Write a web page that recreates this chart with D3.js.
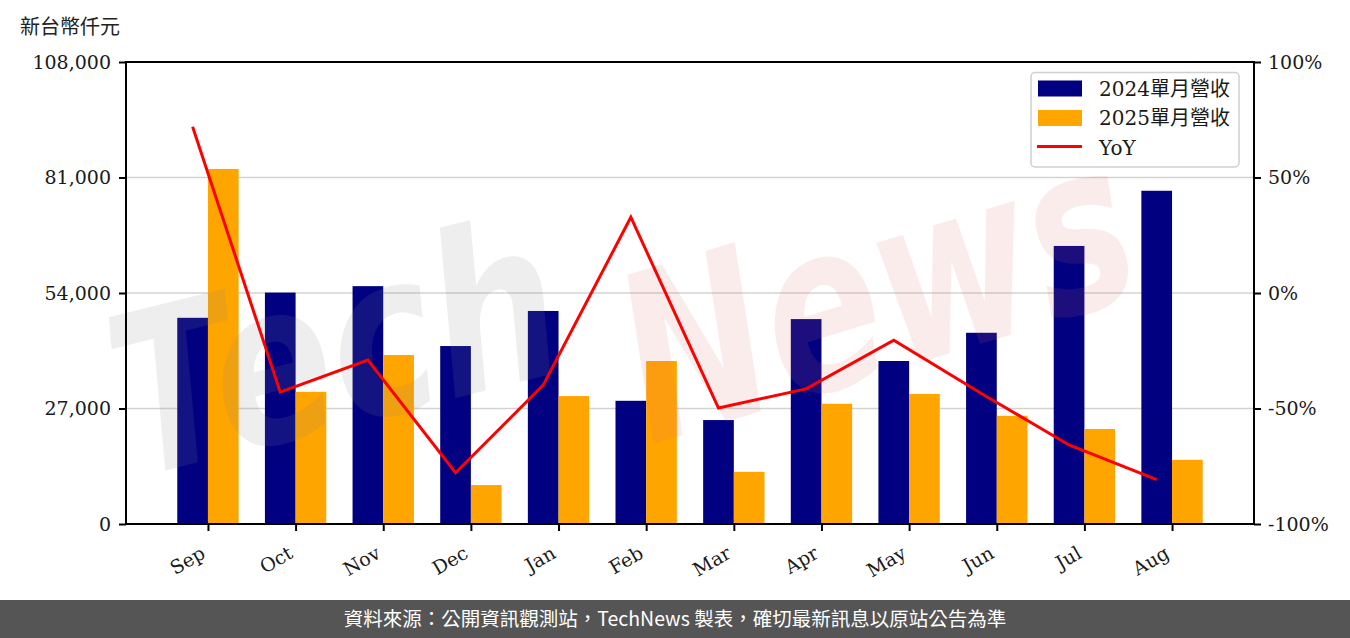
<!DOCTYPE html>
<html>
<head>
<meta charset="utf-8">
<script src="https://cdn.jsdelivr.net/npm/d3@7"></script>
<style>
html,body{margin:0;padding:0;background:#fff;}
svg{display:block;}
</style>
</head>
<body>
<svg id="chart" width="1350" height="638"></svg>
<script>
const months = ["Sep","Oct","Nov","Dec","Jan","Feb","Mar","Apr","May","Jun","Jul","Aug"];
const rev2024 = [48200, 54100, 55600, 41600, 49800, 28800, 24300, 47900, 38100, 44700, 65000, 77900];
const rev2025 = [83000, 30900, 39500, 9100, 29900, 38100, 12200, 28100, 30400, 25300, 22200, 15000];
const yoy = [72.0, -42.9, -29.0, -77.8, -39.9, 32.8, -49.8, -41.5, -20.4, -43.5, -65.8, -80.8];
const leftTicks = [0, 27000, 54000, 81000, 108000];
const rightTicks = [-100, -50, 0, 50, 100];
const seriesNames = ["2024單月營收", "2025單月營收", "YoY"];
const unitLabel = "新台幣仟元";
const footerText = "資料來源：公開資訊觀測站，TechNews 製表，確切最新訊息以原站公告為準";

const svg = d3.select("#chart");
const L = 126, R = 1254, T = 62, B = 524;
const bw = 0.35;
const x = d3.scaleLinear().domain([-0.35 - 0.585, 11.35 + 0.585]).range([L, R]);
const yL = d3.scaleLinear().domain([0, 108000]).range([B, T]);
const yR = d3.scaleLinear().domain([-100, 100]).range([B, T]);

const serif = "'DejaVu Serif', 'Noto Sans CJK TC', serif";
const cjk = "'Noto Sans CJK TC', 'Noto Sans', sans-serif";

// grid
svg.append("g").selectAll("line").data(leftTicks.slice(1, -1)).join("line")
  .attr("x1", L).attr("x2", R)
  .attr("y1", d => yL(d)).attr("y2", d => yL(d))
  .attr("stroke", "#d3d3d3").attr("stroke-width", 1.5);

// bars
svg.append("g").selectAll("rect").data(rev2024).join("rect")
  .attr("x", (d, i) => x(i - bw)).attr("width", (d, i) => x(i) - x(i - bw))
  .attr("y", d => yL(d)).attr("height", d => yL(0) - yL(d))
  .attr("fill", "#000080");
svg.append("g").selectAll("rect").data(rev2025).join("rect")
  .attr("x", (d, i) => x(i)).attr("width", (d, i) => x(i + bw) - x(i))
  .attr("y", d => yL(d)).attr("height", d => yL(0) - yL(d))
  .attr("fill", "#FFA500");

// watermark
const wm = svg.append("g").attr("pointer-events", "none");
wm.append("text").attr("transform", "translate(135,478) rotate(-14) scale(1,1.25)")
  .attr("font-family", "'DejaVu Sans', sans-serif").attr("font-weight", "bold").attr("font-style", "italic")
  .attr("font-size", 178).attr("fill", "#8a8a8a").attr("fill-opacity", 0.14)
  .text("Tech");
wm.append("text").attr("transform", "translate(650,445) rotate(-17) scale(1,1.35)")
  .attr("font-family", "'DejaVu Sans', sans-serif").attr("font-weight", "bold").attr("font-style", "italic")
  .attr("font-size", 172).attr("fill", "#e07070").attr("fill-opacity", 0.13)
  .text("News");

// YoY line
const line = d3.line().x((d, i) => x(i - bw / 2)).y(d => yR(d));
svg.append("path").datum(yoy).attr("d", line)
  .attr("fill", "none").attr("stroke", "#FF0000").attr("stroke-width", 3)
  .attr("stroke-linejoin", "miter");

// axes
const axL = svg.append("g").attr("transform", `translate(${L},0)`)
  .call(d3.axisLeft(yL).tickValues(leftTicks).tickSize(7).tickPadding(8).tickFormat(d3.format(",")));
const axR = svg.append("g").attr("transform", `translate(${R},0)`)
  .call(d3.axisRight(yR).tickValues(rightTicks).tickSize(7).tickPadding(7).tickFormat(d => d + "%"));
const axB = svg.append("g").attr("transform", `translate(0,${B})`)
  .call(d3.axisBottom(x).tickValues(d3.range(months.length)).tickSize(7).tickFormat(i => months[i]));
[axL, axR, axB].forEach(a => {
  a.select(".domain").remove();
  a.selectAll(".tick line").attr("stroke", "#000").attr("stroke-width", 2);
  a.selectAll(".tick text").attr("font-family", serif).attr("font-size", 19).attr("fill", "#1a1a1a");
});
axB.selectAll(".tick text")
  .attr("text-anchor", "end").attr("y", 0).attr("dy", 0)
  .attr("transform", "translate(-2,33) rotate(-30)");

// spines
svg.append("rect").attr("x", L).attr("y", T).attr("width", R - L).attr("height", B - T)
  .attr("fill", "none").attr("stroke", "#000").attr("stroke-width", 2);

// unit label
svg.append("text").attr("x", 20).attr("y", 34).attr("font-family", cjk)
  .attr("font-size", 20).attr("fill", "#222").text(unitLabel);

// legend
const lg = svg.append("g");
lg.append("rect").attr("x", 1031).attr("y", 72.5).attr("width", 208).attr("height", 94.5)
  .attr("rx", 4).attr("fill", "#fff").attr("fill-opacity", 0.8).attr("stroke", "#d0d0d0").attr("stroke-width", 1.5);
const colors = ["#000080", "#FFA500", "#FF0000"];
seriesNames.forEach((n, i) => {
  const cy = 88.5 + i * 29.5;
  if (i < 2) {
    lg.append("rect").attr("x", 1038).attr("y", cy - 8).attr("width", 44).attr("height", 16).attr("fill", colors[i]);
  } else {
    lg.append("line").attr("x1", 1037).attr("x2", 1082).attr("y1", cy - 1).attr("y2", cy - 1)
      .attr("stroke", colors[i]).attr("stroke-width", 3);
  }
  lg.append("text").attr("x", 1099).attr("y", cy + 7).attr("font-family", serif)
    .attr("font-size", 20).attr("fill", "#1a1a1a").text(n);
});

// footer
svg.append("rect").attr("x", 0).attr("y", 600).attr("width", 1350).attr("height", 38).attr("fill", "#555555");
svg.append("text").attr("x", 675).attr("y", 626).attr("text-anchor", "middle")
  .attr("font-family", cjk).attr("font-size", 19.5).attr("fill", "#fff").text(footerText);
</script>
</body>
</html>
